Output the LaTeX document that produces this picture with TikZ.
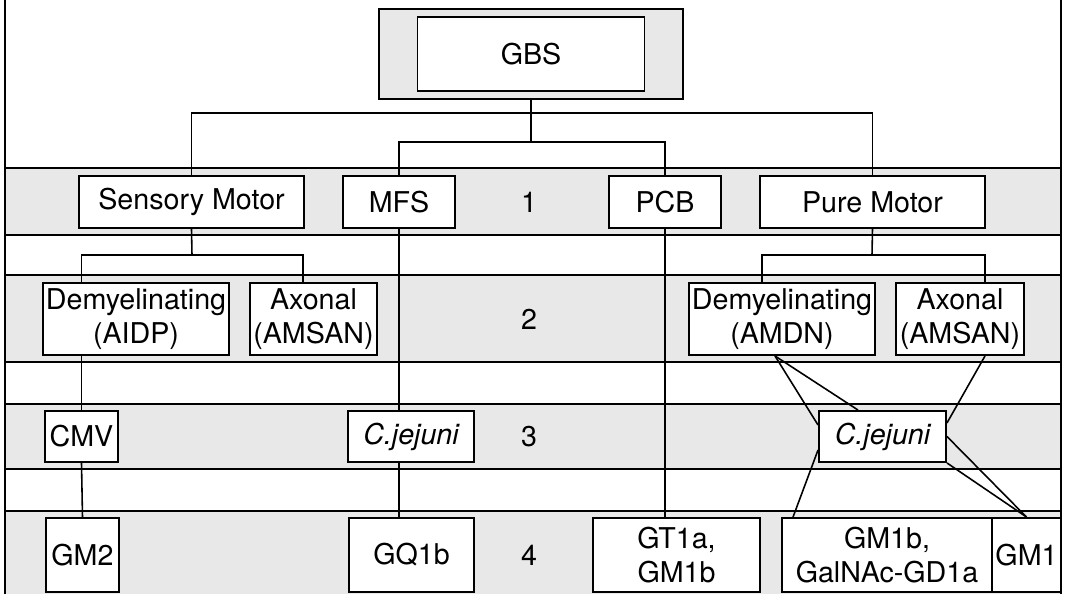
\documentclass[tikz,border=0pt]{standalone}
\usepackage{fontspec}
\setmainfont{TeX Gyre Heros}
\usetikzlibrary{positioning,calc}

\begin{document}
\begin{tikzpicture}[x=0.2mm,y=-0.2mm,
        box/.style={draw,line width=1.1pt,fill=white,inner sep=0pt,align=center,
            font=\fontsize{16.3pt}{19.3pt}\selectfont},
        level/.style={inner sep=0pt,font=\fontsize{16.3pt}{19.3pt}\selectfont},
        band/.style={fill=black!9},
        rule/.style={line width=1.1pt},
        link/.style={line width=0.9pt}]
        \useasboundingbox (0,0) rectangle (1069,594);

        % shaded bands
        \foreach \bandtop/\bandbot in {168/235,275/362,404/469}{
            \fill[band] (5,\bandtop) rectangle (1061,\bandbot);
            \draw[rule] (5,\bandtop) -- (1061,\bandtop);
            \draw[rule] (5,\bandbot) -- (1061,\bandbot);
        }
        \fill[band] (5,511) rectangle (1061,594);
        \draw[rule] (5,511) -- (1061,511);

        % frame
        \draw[rule] (5,0) -- (5,594);
        \draw[rule] (1061,0) -- (1061,594);

        % root
        \node[box,fill=black!9,minimum width=60.8mm,minimum height=18mm] (gbsframe) at (531,54) {};
        \node[box,minimum width=45.4mm,minimum height=14.8mm] (gbs) at (531,54) {GBS};

        % level 1
        \node[box,minimum width=45mm,minimum height=10.4mm] (sm) at (191.5,202) {Sensory Motor};
        \node[box,minimum width=22.4mm,minimum height=10.4mm] (mfs) at (399,202) {MFS};
        \node[level] (lvl1) at (529,202) {1};
        \node[box,minimum width=22.4mm,minimum height=10.4mm] (pcb) at (665,202) {PCB};
        \node[box,minimum width=45mm,minimum height=10.4mm] (pm) at (872.5,202) {Pure Motor};

        % level 2
        \node[box,minimum width=37.2mm,minimum height=14.4mm] (aidp) at (136,319) {Demyelinating\\(AIDP)};
        \node[box,minimum width=25.4mm,minimum height=14.4mm] (amsanL) at (313.5,319) {Axonal\\(AMSAN)};
        \node[level] (lvl2) at (529,319) {2};
        \node[box,minimum width=37.2mm,minimum height=14.4mm] (amdn) at (782,319) {Demyelinating\\(AMDN)};
        \node[box,minimum width=25.6mm,minimum height=14.4mm] (amsanR) at (960,319) {Axonal\\(AMSAN)};

        % level 3
        \node[box,minimum width=14.6mm,minimum height=10.2mm] (cmv) at (81.5,436.5) {CMV};
        \node[box,minimum width=25.2mm,minimum height=10.2mm] (cjL) at (411,436.5) {\itshape C.jejuni};
        \node[level] (lvl3) at (529,436.5) {3};
        \node[box,minimum width=25.4mm,minimum height=10.2mm] (cjR) at (882.5,436.5) {\itshape C.jejuni};

        % level 4
        \node[box,minimum width=14.6mm,minimum height=14.8mm] (gm2) at (82.5,555) {GM2};
        \node[box,minimum width=25mm,minimum height=14.8mm] (gq1b) at (411.5,555) {GQ1b};
        \node[level] (lvl4) at (529,555) {4};
        \node[box,minimum width=33.4mm,minimum height=14.8mm] (gt1a) at (676.5,555) {GT1a,\\GM1b};
        \node[box,minimum width=42mm,minimum height=14.8mm] (gm1b) at (887,555) {GM1b,\\GalNAc-GD1a};
        \node[box,minimum width=13.8mm,minimum height=14.8mm] (gm1) at (1026.5,555) {GM1};

        % bus points
        \coordinate (topbus) at (531,113);
        \coordinate (midbus) at (531,142);
        \coordinate (smbus) at (192,255);
        \coordinate (pmbus) at (872,255);

        % root to level 1
        \draw[link] (gbsframe.south) -- (midbus);
        \draw[link] (sm.north) |- (topbus) -| (pm.north);
        \draw[link] (mfs.north) |- (midbus) -| (pcb.north);

        % level 1 to level 2
        \draw[link] (sm.south) -- (smbus);
        \draw[link] (aidp.north -| cmv.north) |- (smbus) -| ([xshift=-2.1mm]amsanL.north);
        \draw[link] (pm.south) -- (pmbus);
        \draw[link] ([xshift=-4mm]amdn.north) |- (pmbus) -| ([xshift=5mm]amsanR.north);

        % long lines
        \draw[link] (mfs.south) -- (mfs.south |- cjL.north);
        \draw[link] (cjL.south -| mfs.south) -- (gq1b.north -| mfs.south);
        \draw[link] (pcb.south) -- (pcb.south |- gt1a.north);
        \draw[link] (aidp.south -| cmv.north) -- (cmv.north);
        \draw[link] (cmv.south) -- (gm2.north);

        % diagonals round C.jejuni
        \draw[link] ([xshift=-1.4mm]amdn.south) -- ([xshift=-4.9mm]cjR.north);
        \draw[link] ([xshift=-1.4mm]amdn.south) -- ([yshift=2.3mm]cjR.west);
        \draw[link] ([xshift=5mm]amsanR.south) -- ([yshift=2.7mm]cjR.east);
        \draw[link] ([yshift=-2.7mm]cjR.west) -- ([xshift=2.4mm]gm1b.north west);
        \draw[link] (cjR.east) -- (gm1.north);
        \draw[link] (cjR.south east) -- (gm1.north);
\end{tikzpicture}
\end{document}
